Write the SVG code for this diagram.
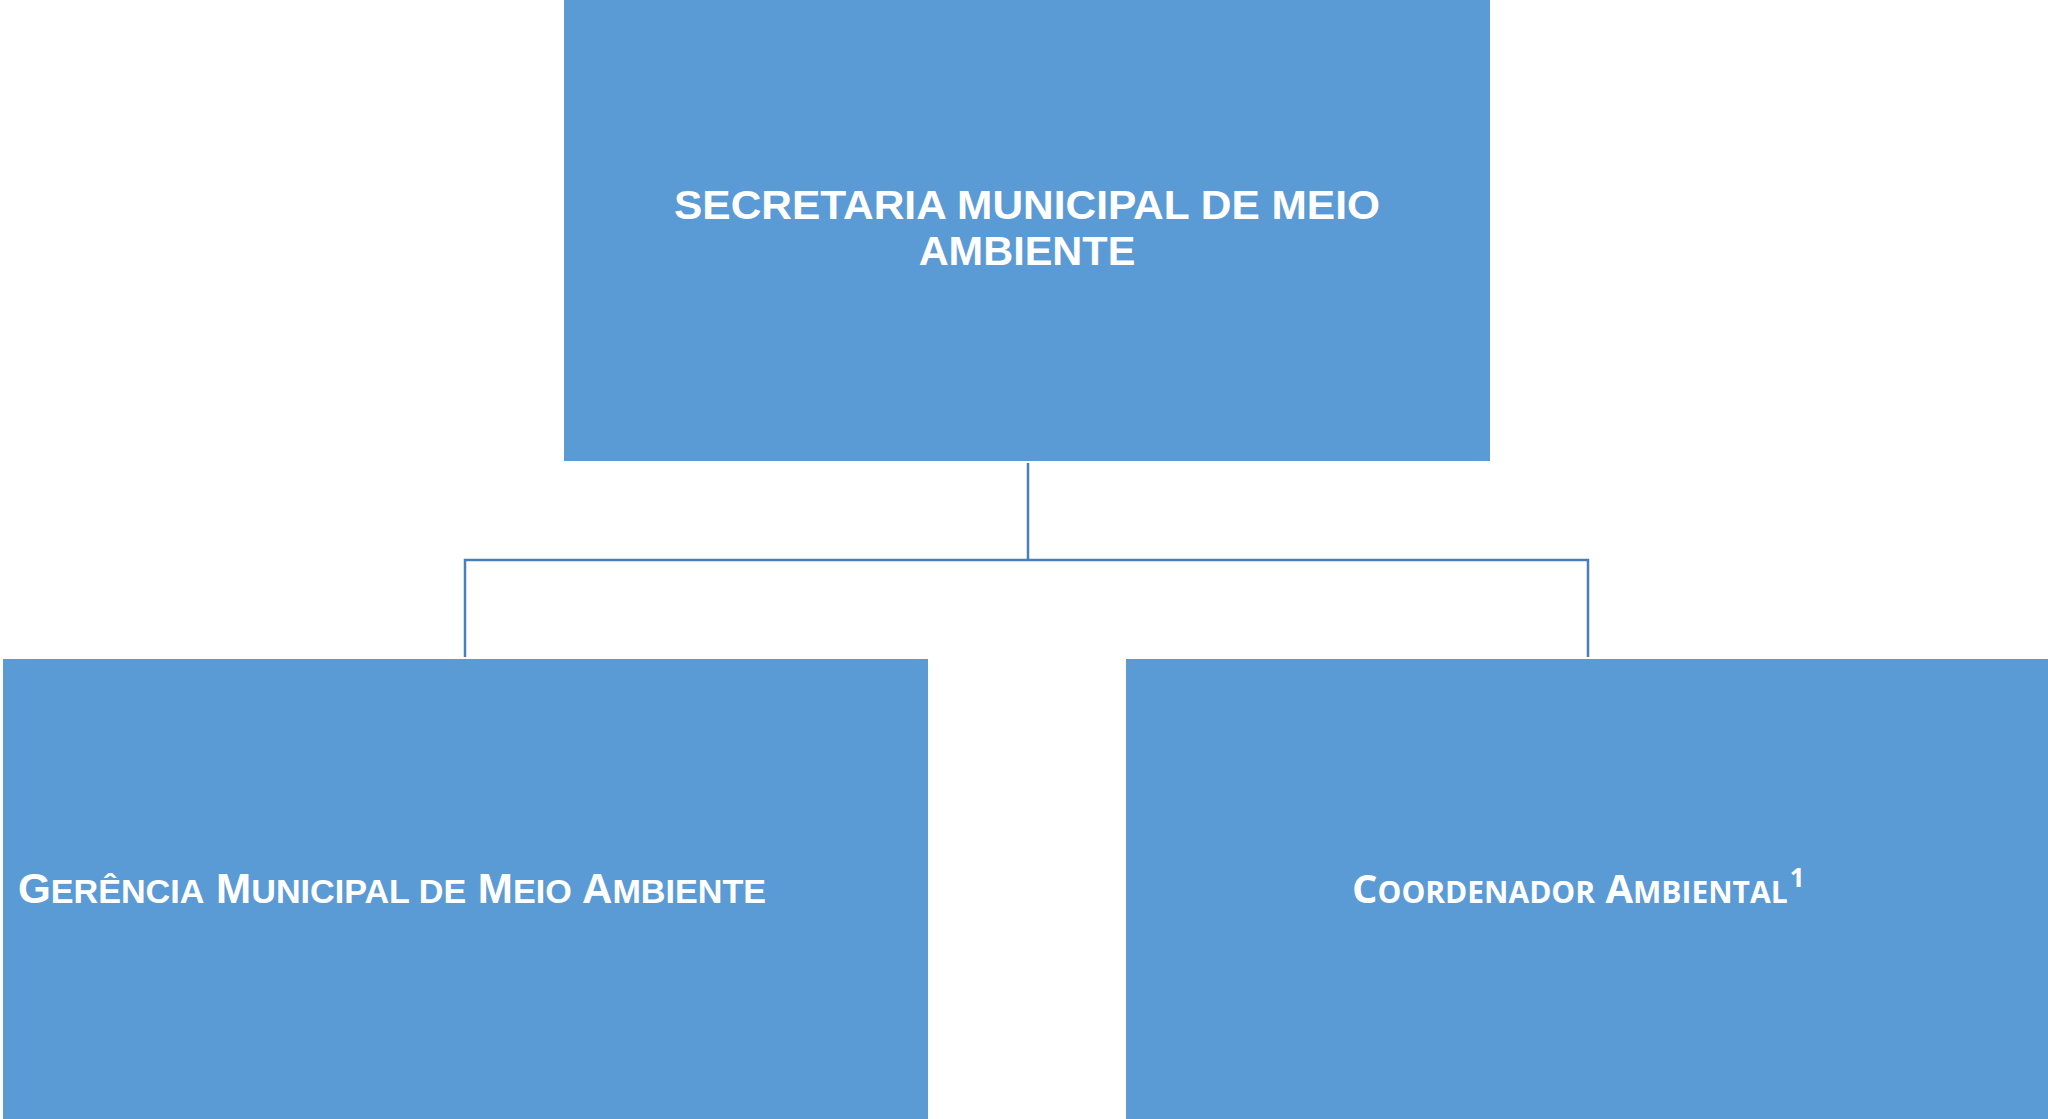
<svg xmlns="http://www.w3.org/2000/svg" width="2048" height="1119" viewBox="0 0 2048 1119">
  <style>
    .box { fill: #5B9BD5; }
    .conn { stroke: #4A7EBB; stroke-width: 2.5; fill: none; }
    .arial { font-family: "Liberation Sans", Arial, sans-serif; font-weight: bold; fill: #FFFFFF; }
    .open { font-family: "Open Sans", "Liberation Sans", sans-serif; font-weight: bold; fill: #FFFFFF; }
  </style>
  <rect x="0" y="0" width="2048" height="1119" fill="#FFFFFF"/>
  <g id="connectors">
    <path class="conn" d="M1028 463 V560"/>
    <path class="conn" d="M465 657 V560 H1588 V657"/>
  </g>
  <g id="node-secretaria">
    <rect class="box" x="564" y="0" width="926" height="461"/>
    <text class="arial" font-size="41.5" x="1027" y="219" text-anchor="middle" textLength="706" lengthAdjust="spacingAndGlyphs">SECRETARIA MUNICIPAL DE MEIO</text>
    <text class="arial" font-size="41.5" x="1027" y="265" text-anchor="middle">AMBIENTE</text>
  </g>
  <g id="node-gerencia">
    <rect class="box" x="3" y="659" width="925" height="460"/>
    <text class="arial" font-size="42" x="18" y="903" textLength="748" lengthAdjust="spacingAndGlyphs">G<tspan font-size="34">ERÊNCIA</tspan> M<tspan font-size="34">UNICIPAL DE</tspan> M<tspan font-size="34">EIO</tspan> A<tspan font-size="34">MBIENTE</tspan></text>
  </g>
  <g id="node-coordenador">
    <rect class="box" x="1126" y="659" width="922" height="460"/>
    <text class="open" font-size="40" x="1352" y="903">C<tspan font-size="30">OORDENADOR</tspan> A<tspan font-size="30">MBIENTAL</tspan><tspan font-size="26" dx="2" dy="-16">1</tspan></text>
  </g>
</svg>
